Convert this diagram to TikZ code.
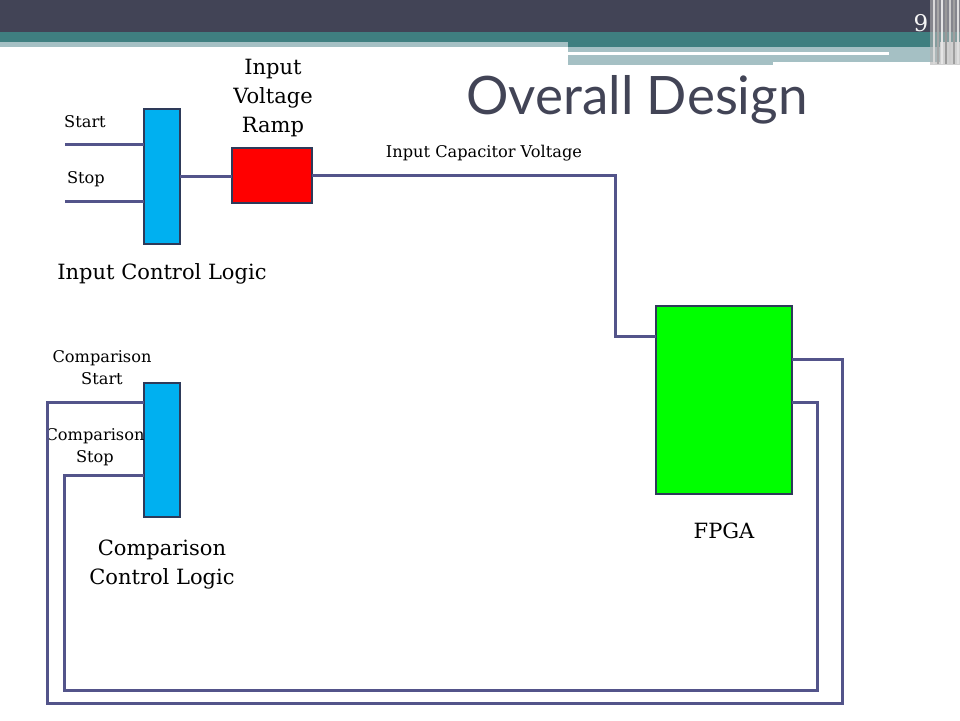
\documentclass[tikz,border=0pt]{standalone}
\usepackage{fontspec}
\newfontfamily\lblfont{DejaVu Serif}
\newfontfamily\titlefont{Lato}
\definecolor{hdark}{RGB}{66,68,86}
\definecolor{hteal}{RGB}{63,127,128}
\definecolor{hlight}{RGB}{165,192,196}
\definecolor{wirec}{RGB}{83,84,138}
\definecolor{edgec}{RGB}{46,58,89}
\definecolor{cblue}{RGB}{0,176,240}
\definecolor{cred}{RGB}{255,0,0}
\definecolor{cgreen}{RGB}{0,255,0}
\begin{document}
\begin{tikzpicture}[x=1pt,y=-1pt,
  blk/.style={draw=edgec,line width=2pt,inner sep=0pt,outer sep=0pt},
  wire/.style={draw=wirec,line width=3pt,line cap=butt,line join=miter},
  big/.style={font=\lblfont\fontsize{21}{29}\selectfont,align=center,inner sep=0pt},
  small/.style={font=\lblfont\fontsize{16.2}{22}\selectfont,align=center,inner sep=0pt}]
\useasboundingbox (0,0) rectangle (960,720);
\fill[white] (0,0) rectangle (960,720);
% header
\fill[hdark] (0,0) rectangle (960,32);
\fill[hteal] (0,32) rectangle (960,42);
\fill[hlight] (0,42) rectangle (568,47);
\fill[hteal] (568,42) rectangle (940,47);
\fill[hlight] (568,47) rectangle (940,65);
\fill[white] (568,52) rectangle (889,55);
\fill[white] (773,62) rectangle (940,66);
\fill[gray!60,opacity=0.6] (930,0) rectangle (960,65);
\foreach \xx/\cc in {933/gray!30,937/gray!70,941/gray!20,945/gray!80,949/gray!40,953/gray!75,957/gray!25}
  \fill[\cc] (\xx,0) rectangle (\xx+1.5,64);
\node[font=\lblfont\fontsize{23}{26}\selectfont,text=white!92!gray,inner sep=0pt] (pg) at (921,23) {9};
% title
\node[font=\titlefont\fontsize{53}{58}\selectfont,text=hdark,inner sep=0pt] (title) at (637,100) {Overall Design};
% blocks
\node[blk,fill=cblue,minimum width=36,minimum height=135] (icl) at (162,176) {};
\node[blk,fill=cred,minimum width=80,minimum height=55] (ramp) at (272,175.5) {};
\node[blk,fill=cgreen,minimum width=136,minimum height=188] (fpga) at (724,400) {};
\node[blk,fill=cblue,minimum width=36,minimum height=134] (ccl) at (162,450) {};
% labels
\node[small] (lstart) at (85,122) {Start};
\node[small] (lstop) at (86,179) {Stop};
\node[big] (lramp) at (273,98) {Input\\Voltage\\Ramp};
\node[small] (lcap) at (484,153) {Input Capacitor Voltage};
\node[big] (licl) at (162,274) {Input Control Logic};
\node[small] (lcs) at (102,368) {Comparison\\Start};
\node[small] (lcst) at (95,447) {Comparison\\Stop};
\node[big] (lccl) at (162,565) {Comparison\\Control Logic};
\node[big] (lfpga) at (724,531) {FPGA};
% connectors
\coordinate (s1) at (65,144);
\coordinate (s2) at (65,201);
\draw[wire] (s1) -- (s1 -| icl.west);
\draw[wire] (s2) -- (s2 -| icl.west);
\draw[wire] (icl.east) -- (icl.east -| ramp.west);
\coordinate (j1) at (615,336);
\draw[wire] (ramp.east) -| (j1) -- (j1 -| fpga.west);
\coordinate (o1) at (792,359);
\coordinate (o2) at (792,402);
\coordinate (b1) at (842,703);
\coordinate (b2) at (817,690);
\coordinate (t1) at (47,402);
\coordinate (t2) at (64,475);
\draw[wire] (o1 -| fpga.east) -| (b1) -| (t1) -- (t1 -| ccl.west);
\draw[wire] (o2 -| fpga.east) -| (b2) -| (t2) -- (t2 -| ccl.west);
\end{tikzpicture}
\end{document}
